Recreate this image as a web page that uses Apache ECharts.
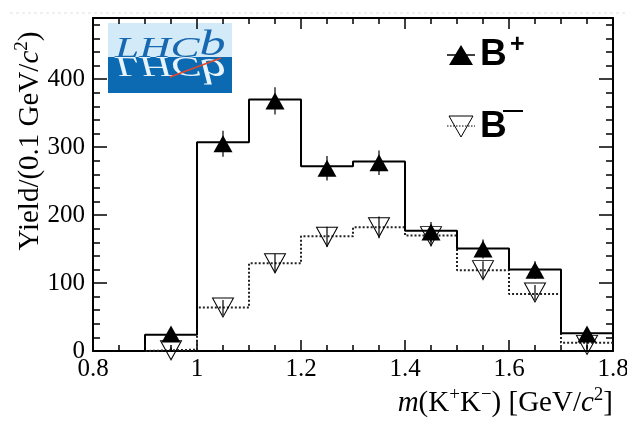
<!DOCTYPE html>
<html lang="en">
<head>
<meta charset="UTF-8">
<title>Yield vs m(KK)</title>
<script src="https://cdn.jsdelivr.net/npm/echarts@6/dist/echarts.min.js"></script>
<style>html,body{margin:0;padding:0;background:#fff;}</style>
</head>
<body>
<div id="main" style="width:627px;height:425px;"></div>
<script>
// histogram bin edges in GeV/c^2 (bin width 0.1)
const binEdges = [0.8, 0.9, 1.0, 1.1, 1.2, 1.3, 1.4, 1.5, 1.6, 1.7, 1.8];
// binned yields, one per bin
const histPlus = [0, 24, 307, 370, 272, 279, 177, 151, 120, 26];
const histMinus = [0, 2, 64, 129, 169, 182, 170, 119, 84, 12];

// data points (bin centres from 0.95)
const pointX = [0.95, 1.05, 1.15, 1.25, 1.35, 1.45, 1.55, 1.65, 1.75];
const pointsPlus = [25, 305, 368, 269, 277, 175, 150, 119, 25];
const errPlus = [7, 19, 20, 18, 18, 15, 14, 13, 7];
const pointsMinus = [1, 64, 129, 168, 182, 169, 119, 86, 9];
const errMinus = [4, 11, 14, 15, 16, 15, 13, 11, 6];

const xTickLabels = ['0.8', '1', '1.2', '1.4', '1.6', '1.8'];
const yTickLabels = ['0', '100', '200', '300', '400'];

const serif = 'Liberation Serif';

// step line data: value of each bin starts at its low edge, repeat last value at the end
function stepData(vals) {
    return binEdges.map((x, i) => [x, vals[Math.min(i, vals.length - 1)]]);
}

function errData(ys, es) {
    return pointX.map((x, i) => [x, ys[i], es[i]]);
}

function errBars(params, api) {
    const x = api.value(0), y = api.value(1), e = api.value(2);
    const top = api.coord([x, y + e]);
    const bot = api.coord([x, Math.max(0, y - e)]);
    return {
        type: 'line',
        shape: { x1: top[0], y1: top[1], x2: bot[0], y2: bot[1] },
        style: { stroke: '#000', lineWidth: 1.2 }
    };
}

const black = { color: '#000', width: 2 };

function xAx(pos, labels) {
    return {
        type: 'value', position: pos, min: 0.8, max: 1.8, interval: 0.2,
        axisLine: { show: true, onZero: false, lineStyle: black },
        axisTick: { show: true, inside: true, length: 11, lineStyle: { color: '#000', width: 1.5 } },
        minorTick: { show: true, splitNumber: 4, length: 6, lineStyle: { color: '#000', width: 1.5 } },
        splitLine: { show: false },
        axisLabel: {
            show: labels, margin: 6, color: '#000', fontFamily: serif, fontSize: 25,
            formatter: v => {
                const s = String(Math.round(v * 10) / 10);
                return xTickLabels.includes(s) ? s : '';
            }
        }
    };
}

function yAx(pos, interval, len, line, labels) {
    return {
        type: 'value', position: pos, min: 0, max: 490, interval: interval,
        axisLine: { show: line, onZero: false, lineStyle: black },
        axisTick: { show: true, inside: true, length: len, lineStyle: { color: '#000', width: 1.5 } },
        splitLine: { show: false },
        axisLabel: {
            show: labels, margin: 8, color: '#000', fontFamily: serif, fontSize: 25,
            formatter: v => yTickLabels.includes(String(v)) ? String(v) : ''
        }
    };
}

const richText = {
    n: { fontFamily: serif, fontSize: 29, lineHeight: 34, fill: '#000' },
    i: { fontFamily: serif, fontSize: 29, lineHeight: 34, fontStyle: 'italic', fill: '#000' },
    s: { fontFamily: serif, fontSize: 19, verticalAlign: 'top', fill: '#000' }
};

const logoRich = (fill) => ({
    a: { fontFamily: serif, fontStyle: 'italic', fontSize: 30, fill: fill, verticalAlign: 'bottom' },
    b: { fontFamily: serif, fontStyle: 'italic', fontSize: 36, fill: fill, verticalAlign: 'bottom' }
});

let myChart = echarts.init(document.getElementById('main'));

let options = {
    animation: false,
    backgroundColor: '#fff',
    grid: { left: 93, right: 14, top: 18, bottom: 74, containLabel: false, outerBoundsMode: 'none' },
    xAxis: [xAx('bottom', true), xAx('top', false)],
    yAxis: [
        yAx('left', 100, 14, true, true),
        yAx('left', 20, 7, false, false),
        yAx('right', 100, 14, true, false),
        yAx('right', 20, 7, false, false)
    ],
    series: [
        {
            name: 'B- hist', type: 'line', step: 'end', data: stepData(histMinus),
            symbol: 'none', lineStyle: { color: '#222', width: 2, type: [2, 2] }, z: 2
        },
        {
            name: 'B+ hist', type: 'line', step: 'end', data: stepData(histPlus),
            symbol: 'none', lineStyle: { color: '#000', width: 2 }, z: 3
        },
        {
            name: 'B- err', type: 'custom', data: errData(pointsMinus, errMinus),
            encode: { x: 0, y: 1 }, renderItem: errBars, z: 4
        },
        {
            name: 'B+ err', type: 'custom', data: errData(pointsPlus, errPlus),
            encode: { x: 0, y: 1 }, renderItem: errBars, z: 4
        },
        {
            name: 'B-', type: 'scatter', data: pointX.map((x, i) => [x, pointsMinus[i]]),
            symbol: 'triangle', symbolRotate: 180, symbolSize: [21, 19],
            itemStyle: { color: 'rgba(255,255,255,0)', borderColor: '#000', borderWidth: 1, opacity: 1 }, z: 5
        },
        {
            name: 'B+', type: 'scatter', data: pointX.map((x, i) => [x, pointsPlus[i]]),
            symbol: 'triangle', symbolSize: [19, 17],
            itemStyle: { color: '#000', opacity: 1 }, z: 6
        }
    ],
    graphic: [
        // faint dashed line at the very top of the picture
        { type: 'line', shape: { x1: 10, y1: 13, x2: 627, y2: 13 },
          style: { stroke: '#e2e2e2', lineWidth: 1, lineDash: [3, 3] }, silent: true },
        // LHCb logo
        { type: 'rect', shape: { x: 108, y: 23, width: 124, height: 34 }, style: { fill: '#d3ebf8' } },
        { type: 'rect', shape: { x: 108, y: 57, width: 124, height: 36 }, style: { fill: '#0b6ab2' } },
        { type: 'text', x: 115, y: 64, scaleX: 1.45, scaleY: 1,
          style: { text: '{a|LHC}{b|b}', verticalAlign: 'bottom', rich: logoRich('#1768b0') } },
        { type: 'text', x: 115, y: 50, scaleX: 1.45, scaleY: -1,
          style: { text: '{a|LHC}{b|b}', verticalAlign: 'bottom', rich: logoRich('#e8f4fb') } },
        { type: 'line', shape: { x1: 170, y1: 77, x2: 221, y2: 58 }, style: { stroke: '#e2472c', lineWidth: 1.5 } },
        // legend
        { type: 'line', shape: { x1: 447, y1: 55, x2: 475, y2: 55 }, style: { stroke: '#000', lineWidth: 1.5 } },
        { type: 'polygon', shape: { points: [[461, 45], [449, 65], [473, 65]] }, style: { fill: '#000' } },
        { type: 'text', x: 480, y: 55, style: { text: 'B', font: 'bold 37px "Liberation Sans"', fill: '#000', verticalAlign: 'middle' } },
        { type: 'text', x: 510, y: 45, style: { text: '+', font: 'bold 25px "Liberation Sans"', fill: '#000', verticalAlign: 'middle' } },
        { type: 'line', shape: { x1: 447, y1: 126, x2: 475, y2: 126 }, style: { stroke: '#000', lineWidth: 1.2, lineDash: [1.5, 1.5] } },
        { type: 'polygon', shape: { points: [[449, 116], [473, 116], [461, 137]] }, style: { fill: 'rgba(255,255,255,0)', stroke: '#000', lineWidth: 1 } },
        { type: 'text', x: 480, y: 127, style: { text: 'B', font: 'bold 37px "Liberation Sans"', fill: '#000', verticalAlign: 'middle' } },
        { type: 'text', x: 503, y: 110, style: { text: '\u2014', font: 'bold 20px "Liberation Sans"', fill: '#000', verticalAlign: 'middle' } },
        // axis titles
        { type: 'text', x: 613, y: 403,
          style: { text: '{i|m}{n|(K}{s|+}{n|K}{s|\u2212}{n|) [GeV/}{i|c}{s|2}{n|]}', align: 'right', verticalAlign: 'middle', rich: richText } },
        { type: 'text', x: 30, y: 141, rotation: Math.PI / 2,
          style: { text: '{n|Yield/(0.1 GeV/}{i|c}{s|2}{n|)}', align: 'center', verticalAlign: 'middle', rich: richText } }
    ]
};

myChart.setOption(options);
</script>
</body>
</html>
